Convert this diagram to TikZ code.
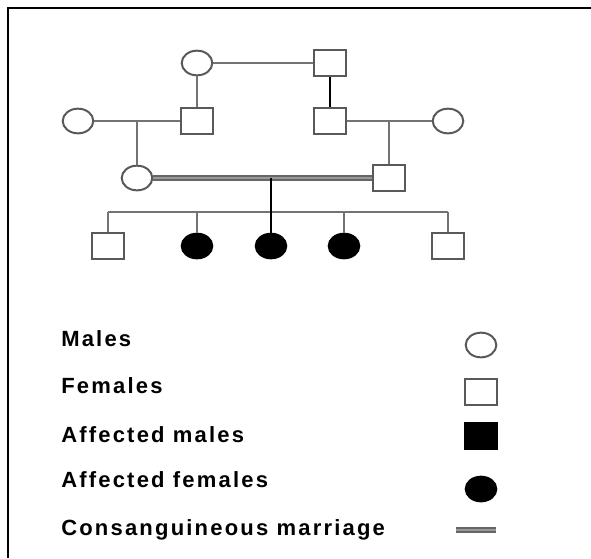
\documentclass[tikz,border=0pt]{standalone}
\usepackage{fontspec}
\setmainfont{Liberation Sans}
\newfontfamily\legendfont[LetterSpace=10]{Liberation Sans}
\usetikzlibrary{shapes.geometric}
\tikzset{
    person/.style={
        draw=black!65,
        line width=1.5pt,
        inner sep=0pt
    },
    male/.style={person, ellipse, minimum width=23pt, minimum height=18.5pt},
    female/.style={person, rectangle, minimum width=24pt, minimum height=19pt},
    affected/.style={fill=black, draw=black},
    link/.style={draw=black!55, line width=1.5pt},
    consang/.style={draw=black!60, line width=1.4pt, double=black!40, double distance=1.6pt},
    legendtext/.style={
        anchor=base west,
        inner sep=0pt,
        font=\legendfont\bfseries\fontsize{16.5}{18}\selectfont
    }
}

\begin{document}
\begin{tikzpicture}[x=0.75pt, y=-0.75pt]
		\useasboundingbox (0,0) rectangle (591,558);
		% Frame (cut at the right and bottom)
		\draw[line width=2.2pt] (8,558) -- (8,8) -- (591,8);

		% First generation
		\node[male] (topc) at (197,63) {};
		\node[female] (tops) at (330,63) {};
		\draw[link] (topc) -- (tops);

		% Second generation
		\node[male] (lc) at (78,121) {};
		\node[female] (ls) at (197,121) {};
		\node[female] (rs) at (330,121) {};
		\node[male] (rc) at (448,121) {};
		\draw[link] (topc) -- (ls);
		\draw[link, draw=black] (tops) -- (rs);
		\draw[link] (lc) -- (ls);
		\draw[link] (rs) -- (rc);
		\coordinate (lm) at (137,121);
		\coordinate (rm) at (389,121);

		% Third generation, consanguineous couple
		\node[male] (mc) at (137,178) {};
		\node[female] (ms) at (389,178) {};
		\draw[link] (lm) -- (mc);
		\draw[link] (rm) -- (ms);
		\draw[consang] (mc) -- (ms);
		\coordinate (mm) at (271,178);

		% Children
		\node[female] (k1) at (108,246) {};
		\node[male, affected] (k2) at (197,246) {};
		\node[male, affected] (k3) at (271,246) {};
		\node[male, affected] (k4) at (344,246) {};
		\node[female] (k5) at (448,246) {};
		\coordinate (sl) at (108,212);
		\coordinate (sr) at (448,212);
		\draw[link] (sl) -- (sr);
		\foreach \k in {k1,k2,k4,k5}
			\draw[link] (\k) -- (\k |- sl);
		\draw[link, draw=black] (mm) -- (k3);

		% Legend
		\node[legendtext] (tmales) at (61,346) {Males};
		\node[legendtext] (tfemales) at (61,393) {Females};
		\node[legendtext] (taffm) at (61,442) {Affected males};
		\node[legendtext] (tafff) at (61,487) {Affected females};
		\node[legendtext] (tcons) at (61,535) {Consanguineous marriage};

		\node[male] (smales) at (481,345) {};
		\node[female] (sfemales) at (481,392) {};
		\node[female, affected] (saffm) at (481,436) {};
		\node[male, affected] (safff) at (481,489) {};
		\coordinate (cl) at (456,530);
		\coordinate (cr) at (496,530);
		\draw[consang] (cl) -- (cr);
	\end{tikzpicture}
\end{document}
